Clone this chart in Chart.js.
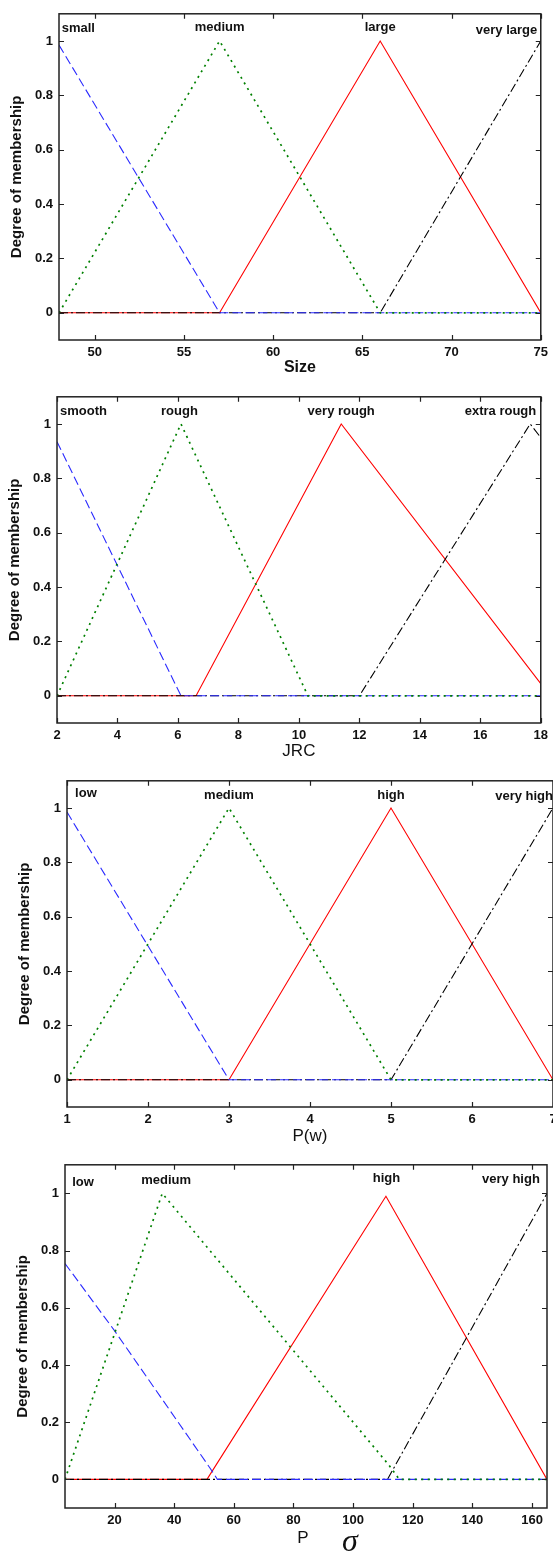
<!DOCTYPE html>
<html>
<head>
<meta charset="utf-8">
<script src="https://cdn.jsdelivr.net/npm/chart.js@4/dist/chart.umd.min.js"></script>
<style>
  html, body { margin: 0; padding: 0; background: #fff; }
  body { position: relative; width: 553px; height: 1551px; overflow: hidden; }
  canvas { position: absolute; left: 0; }
</style>
</head>
<body>
<canvas id="c1"></canvas>
<canvas id="c2"></canvas>
<canvas id="c3"></canvas>
<canvas id="c4"></canvas>
<script>
// eixo y comum
const degreeTicks = [0, 0.2, 0.4, 0.6, 0.8, 1];

// painel 1 - Size
const sizeTicks = [50, 55, 60, 65, 70, 75];
const sizeNames = ['small', 'medium', 'large', 'very large'];
const sizeSmall = [[48, 0.985], [57, 0], [75, 0]];
const sizeMedium = [[48, 0], [57, 1], [66, 0], [75, 0]];
const sizeLarge = [[48, 0], [57, 0], [66, 1], [75, 0]];
const sizeVeryLarge = [[48, 0], [66, 0], [75, 1]];

// painel 2 - JRC
const jrcTicks = [2, 4, 6, 8, 10, 12, 14, 16, 18];
const jrcNames = ['smooth', 'rough', 'very rough', 'extra rough'];
const jrcSmooth = [[2, 0.935], [6.1, 0], [18, 0]];
const jrcRough = [[2, 0], [6.1, 1], [10.3, 0], [18, 0]];
const jrcVeryRough = [[2, 0], [6.6, 0], [11.4, 1], [18, 0.045]];
const jrcExtraRough = [[2, 0], [12, 0], [17.65, 1], [18, 0.95]];

// painel 3 - P(w)
const pwTicks = [1, 2, 3, 4, 5, 6, 7];
const pwNames = ['low', 'medium', 'high', 'very high'];
const pwLow = [[1, 0.985], [3, 0], [7, 0]];
const pwMedium = [[1, 0], [3, 1], [5, 0], [7, 0]];
const pwHigh = [[1, 0], [3, 0], [5, 1], [7, 0]];
const pwVeryHigh = [[1, 0], [5, 0], [7, 1]];

// painel 4 - P sigma
const psTicks = [20, 40, 60, 80, 100, 120, 140, 160];
const psNames = ['low', 'medium', 'high', 'very high'];
const psLow = [[3.4, 0.755], [20, 0.52], [52, 0.04], [54.5, 0], [165, 0]];
const psMedium = [[3.4, 0], [36, 1], [112, 0.05], [115.5, 0], [165, 0]];
const psHigh = [[3.4, 0], [51, 0], [111, 0.99], [165, 0]];
const psVeryHigh = [[3.4, 0], [111.5, 0], [165, 1]];

// estilo das curvas (azul tracejado, verde pontilhado, vermelho, preto traco-ponto)
const curveStyles = [
    { color: '#2a2aff', dash: [9, 4], width: 1.1, order: 2 },
    { color: '#008000', dash: [2, 4.5], width: 1.7, order: 1 },
    { color: '#ff0000', dash: [], width: 1.1, order: 4 },
    { color: '#000000', dash: [9, 3, 2, 3], width: 1.1, order: 3 }
];

const FONT = '"Liberation Sans", Arial, sans-serif';

const panels = [
    {
        id: 'c1', top: 0, width: 553, height: 383,
        plot: { left: 59, right: 543, top: 7, bottom: 340 },
        xMin: 48, xMax: 75, ticks: sizeTicks,
        series: [sizeSmall, sizeMedium, sizeLarge, sizeVeryLarge],
        names: sizeNames,
        nameX: [48.15, 57, 66, 74.8], nameY: [1.045, 1.05, 1.05, 1.04],
        nameAlign: ['left', 'center', 'center', 'right'],
        xTitle: 'Size', xTitleFont: 'bold 16px ' + FONT, xTitleDy: 28
    },
    {
        id: 'c2', top: 383, width: 553, height: 384,
        plot: { left: 57, right: 541, top: 7, bottom: 340 },
        xMin: 2, xMax: 18, ticks: jrcTicks,
        series: [jrcSmooth, jrcRough, jrcVeryRough, jrcExtraRough],
        names: jrcNames,
        nameX: [2.1, 6.05, 11.4, 17.85], nameY: [1.046, 1.048, 1.048, 1.045],
        nameAlign: ['left', 'center', 'center', 'right'],
        xTitle: 'JRC', xTitleFont: '17px ' + FONT, xTitleDy: 28
    },
    {
        id: 'c3', top: 767, width: 570, height: 384,
        plot: { left: 67, right: 553, top: 7, bottom: 340 },
        xMin: 1, xMax: 7, ticks: pwTicks,
        series: [pwLow, pwMedium, pwHigh, pwVeryHigh],
        names: pwNames,
        nameX: [1.1, 3, 5, 7], nameY: [1.054, 1.048, 1.048, 1.044],
        nameAlign: ['left', 'center', 'center', 'right'],
        xTitle: 'P(w)', xTitleFont: '17px ' + FONT, xTitleDy: 29
    },
    {
        id: 'c4', top: 1151, width: 553, height: 400,
        plot: { left: 65, right: 547, top: 7, bottom: 357 },
        xMin: 3.4, xMax: 165, ticks: psTicks,
        series: [psLow, psMedium, psHigh, psVeryHigh],
        names: psNames,
        nameX: [5.8, 37.3, 111.2, 162.6], nameY: [1.038, 1.046, 1.052, 1.048],
        nameAlign: ['left', 'center', 'center', 'right'],
        xTitle: 'P', xTitleFont: '17px ' + FONT, xTitleDy: 30, xTitleDx: -3,
        sigma: true
    }
];

// moldura, ticks para dentro, nomes dos conjuntos e titulos dos eixos
const decorPlugin = {
    id: 'decor',
    afterDraw(chart, args, opts) {
        const { ctx, chartArea: a, scales: { x, y } } = chart;
        ctx.save();
        ctx.strokeStyle = '#222';
        ctx.lineWidth = 1.5;
        ctx.strokeRect(a.left, a.top, a.right - a.left, a.bottom - a.top);

        ctx.beginPath();
        x.ticks.forEach(t => {
            const px = Math.round(x.getPixelForValue(t.value)) + 0.5;
            ctx.moveTo(px, a.bottom); ctx.lineTo(px, a.bottom - 5);
            ctx.moveTo(px, a.top); ctx.lineTo(px, a.top + 5);
        });
        y.ticks.forEach(t => {
            const py = Math.round(y.getPixelForValue(t.value)) + 0.5;
            ctx.moveTo(a.left, py); ctx.lineTo(a.left + 5, py);
            ctx.moveTo(a.right, py); ctx.lineTo(a.right - 5, py);
        });
        ctx.lineWidth = 1.2;
        ctx.stroke();

        ctx.fillStyle = '#111';
        ctx.font = 'bold 13px ' + FONT;
        ctx.textBaseline = 'middle';
        opts.names.forEach((name, i) => {
            ctx.textAlign = opts.nameAlign[i];
            ctx.fillText(name, x.getPixelForValue(opts.nameX[i]), y.getPixelForValue(opts.nameY[i]));
        });

        // titulo eixo x
        const cx = (a.left + a.right) / 2;
        ctx.textAlign = 'center';
        ctx.font = opts.xTitleFont;
        ctx.fillText(opts.xTitle, cx + (opts.xTitleDx || 0), a.bottom + opts.xTitleDy);
        if (opts.sigma) {
            ctx.font = 'italic 32px "Liberation Serif", "DejaVu Serif", serif';
            ctx.textBaseline = 'alphabetic';
            ctx.fillText('\u03C3', cx + 44, a.bottom + 43);
        }

        // titulo eixo y
        ctx.save();
        ctx.translate(a.left - 42, (a.top + a.bottom) / 2);
        ctx.rotate(-Math.PI / 2);
        ctx.textAlign = 'center';
        ctx.textBaseline = 'middle';
        ctx.font = 'bold 15px ' + FONT;
        ctx.fillText('Degree of membership', 0, 0);
        ctx.restore();

        ctx.restore();
    }
};

function criarPainel(p) {
    const canvas = document.getElementById(p.id);
    canvas.width = p.width;
    canvas.height = p.height;
    canvas.style.top = p.top + 'px';
    canvas.style.width = p.width + 'px';
    canvas.style.height = p.height + 'px';

    const datasets = p.series.map((pts, i) => ({
        data: pts.map(([vx, vy]) => ({ x: vx, y: vy })),
        borderColor: curveStyles[i].color,
        borderDash: curveStyles[i].dash,
        borderWidth: curveStyles[i].width,
        order: curveStyles[i].order,
        pointRadius: 0,
        tension: 0,
        fill: false
    }));

    new Chart(canvas.getContext('2d'), {
        type: 'line',
        data: { datasets },
        plugins: [decorPlugin],
        options: {
            responsive: false,
            animation: false,
            devicePixelRatio: 1,
            layout: { padding: { top: p.plot.top, right: p.width - p.plot.right, left: 0, bottom: 0 } },
            plugins: {
                legend: { display: false },
                tooltip: { enabled: false },
                decor: p
            },
            scales: {
                x: {
                    type: 'linear',
                    min: p.xMin,
                    max: p.xMax,
                    grid: { display: false, drawTicks: false },
                    border: { display: false },
                    afterBuildTicks: s => { s.ticks = p.ticks.map(v => ({ value: v })); },
                    afterFit: s => { s.height = p.height - p.plot.bottom; },
                    ticks: {
                        autoSkip: false,
                        maxRotation: 0,
                        padding: 5,
                        color: '#111',
                        font: { family: FONT, size: 13, weight: 'bold' },
                        callback: v => String(v)
                    }
                },
                y: {
                    type: 'linear',
                    min: -0.1,
                    max: 1.1,
                    grid: { display: false, drawTicks: false },
                    border: { display: false },
                    afterBuildTicks: s => { s.ticks = degreeTicks.map(v => ({ value: v })); },
                    afterFit: s => { s.width = p.plot.left; },
                    ticks: {
                        autoSkip: false,
                        padding: 6,
                        color: '#111',
                        font: { family: FONT, size: 13, weight: 'bold' },
                        callback: v => String(+v.toFixed(1))
                    }
                }
            }
        }
    });
}

panels.forEach(criarPainel);
</script>
</body>
</html>
